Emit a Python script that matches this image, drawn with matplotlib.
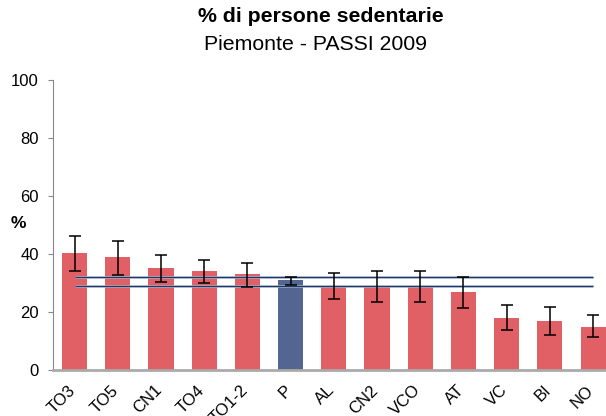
import matplotlib
matplotlib.use("Agg")
import matplotlib.pyplot as plt
import matplotlib.transforms as mtransforms
import numpy as np

plt.rcParams['font.family'] = ['Liberation Sans', 'DejaVu Sans']

categories = ["TO3", "TO5", "CN1", "TO4", "TO1-2", "P", "AL", "CN2", "VCO", "AT", "VC", "BI", "NO"]
values = [40.3, 39.0, 35.2, 34.1, 33.1, 31.0, 29.1, 28.6, 28.6, 27.0, 17.9, 17.0, 14.8]
ci_low = [34.1, 32.9, 30.3, 29.9, 28.6, 29.2, 24.5, 23.3, 23.3, 21.3, 13.7, 12.1, 11.3]
ci_high = [46.2, 44.5, 39.5, 37.8, 37.0, 32.2, 33.3, 34.1, 34.1, 32.1, 22.5, 21.6, 19.1]
region_ci = [29.1, 32.0]
yticks = [0, 20, 40, 60, 80, 100]

red = "#E06066"
blue = "#536591"
colors = [blue if c == "P" else red for c in categories]

fig = plt.figure(figsize=(6.06, 4.16), dpi=100)
ax = fig.add_axes([53/606, 46/416, (606-53)/606, 290/416])

x = np.arange(len(categories))
v = np.array(values)
yerr = np.array([v - np.array(ci_low), np.array(ci_high) - v])
ax.bar(x, v, width=0.58, color=colors, zorder=2)
ax.errorbar(x, v, yerr=yerr, fmt='none', ecolor='black', elinewidth=1.1,
            capsize=4, capthick=1.1, zorder=4)
for yv in region_ci:
    ax.plot([x[0], x[-1]], [yv, yv], color="#a9bcd3", lw=1.8, zorder=3, solid_capstyle='butt')
    ax.plot([x[0], x[-1]], [yv, yv], color="#1f3864", lw=0.9, zorder=3, solid_capstyle='butt')

ax.set_xlim(-0.5, 12.3)
ax.set_ylim(0, 100)
ax.set_yticks(yticks)
ax.set_xticks(x)
ax.set_xticklabels(categories, rotation=45, ha='right', rotation_mode='anchor', fontsize=12)
ax.tick_params(axis='x', length=0, pad=9)
offset = mtransforms.ScaledTranslation(-7/100, 0, fig.dpi_scale_trans)
for lab in ax.get_xticklabels():
    lab.set_transform(lab.get_transform() + offset)
ax.tick_params(axis='y', labelsize=12, length=3.6, color='#888888', direction='out', pad=6.5)
for s in ['top', 'right']:
    ax.spines[s].set_visible(False)
ax.spines['left'].set_color('#888888')
ax.spines['bottom'].set_color('#aaaaaa')
ax.spines['bottom'].set_linewidth(2)

fig.text(18/606, 1 - 224/416, "%", fontsize=12.5, fontweight='bold', ha='center', va='center')
fig.text(321/606, 1 - 17/416, "% di persone sedentarie", fontsize=15.3, fontweight='bold', ha='center', va='center')
fig.text(315/606, 1 - 44/416, "Piemonte - PASSI 2009", fontsize=15.3, ha='center', va='center')

fig.savefig("out.png", dpi=100)
